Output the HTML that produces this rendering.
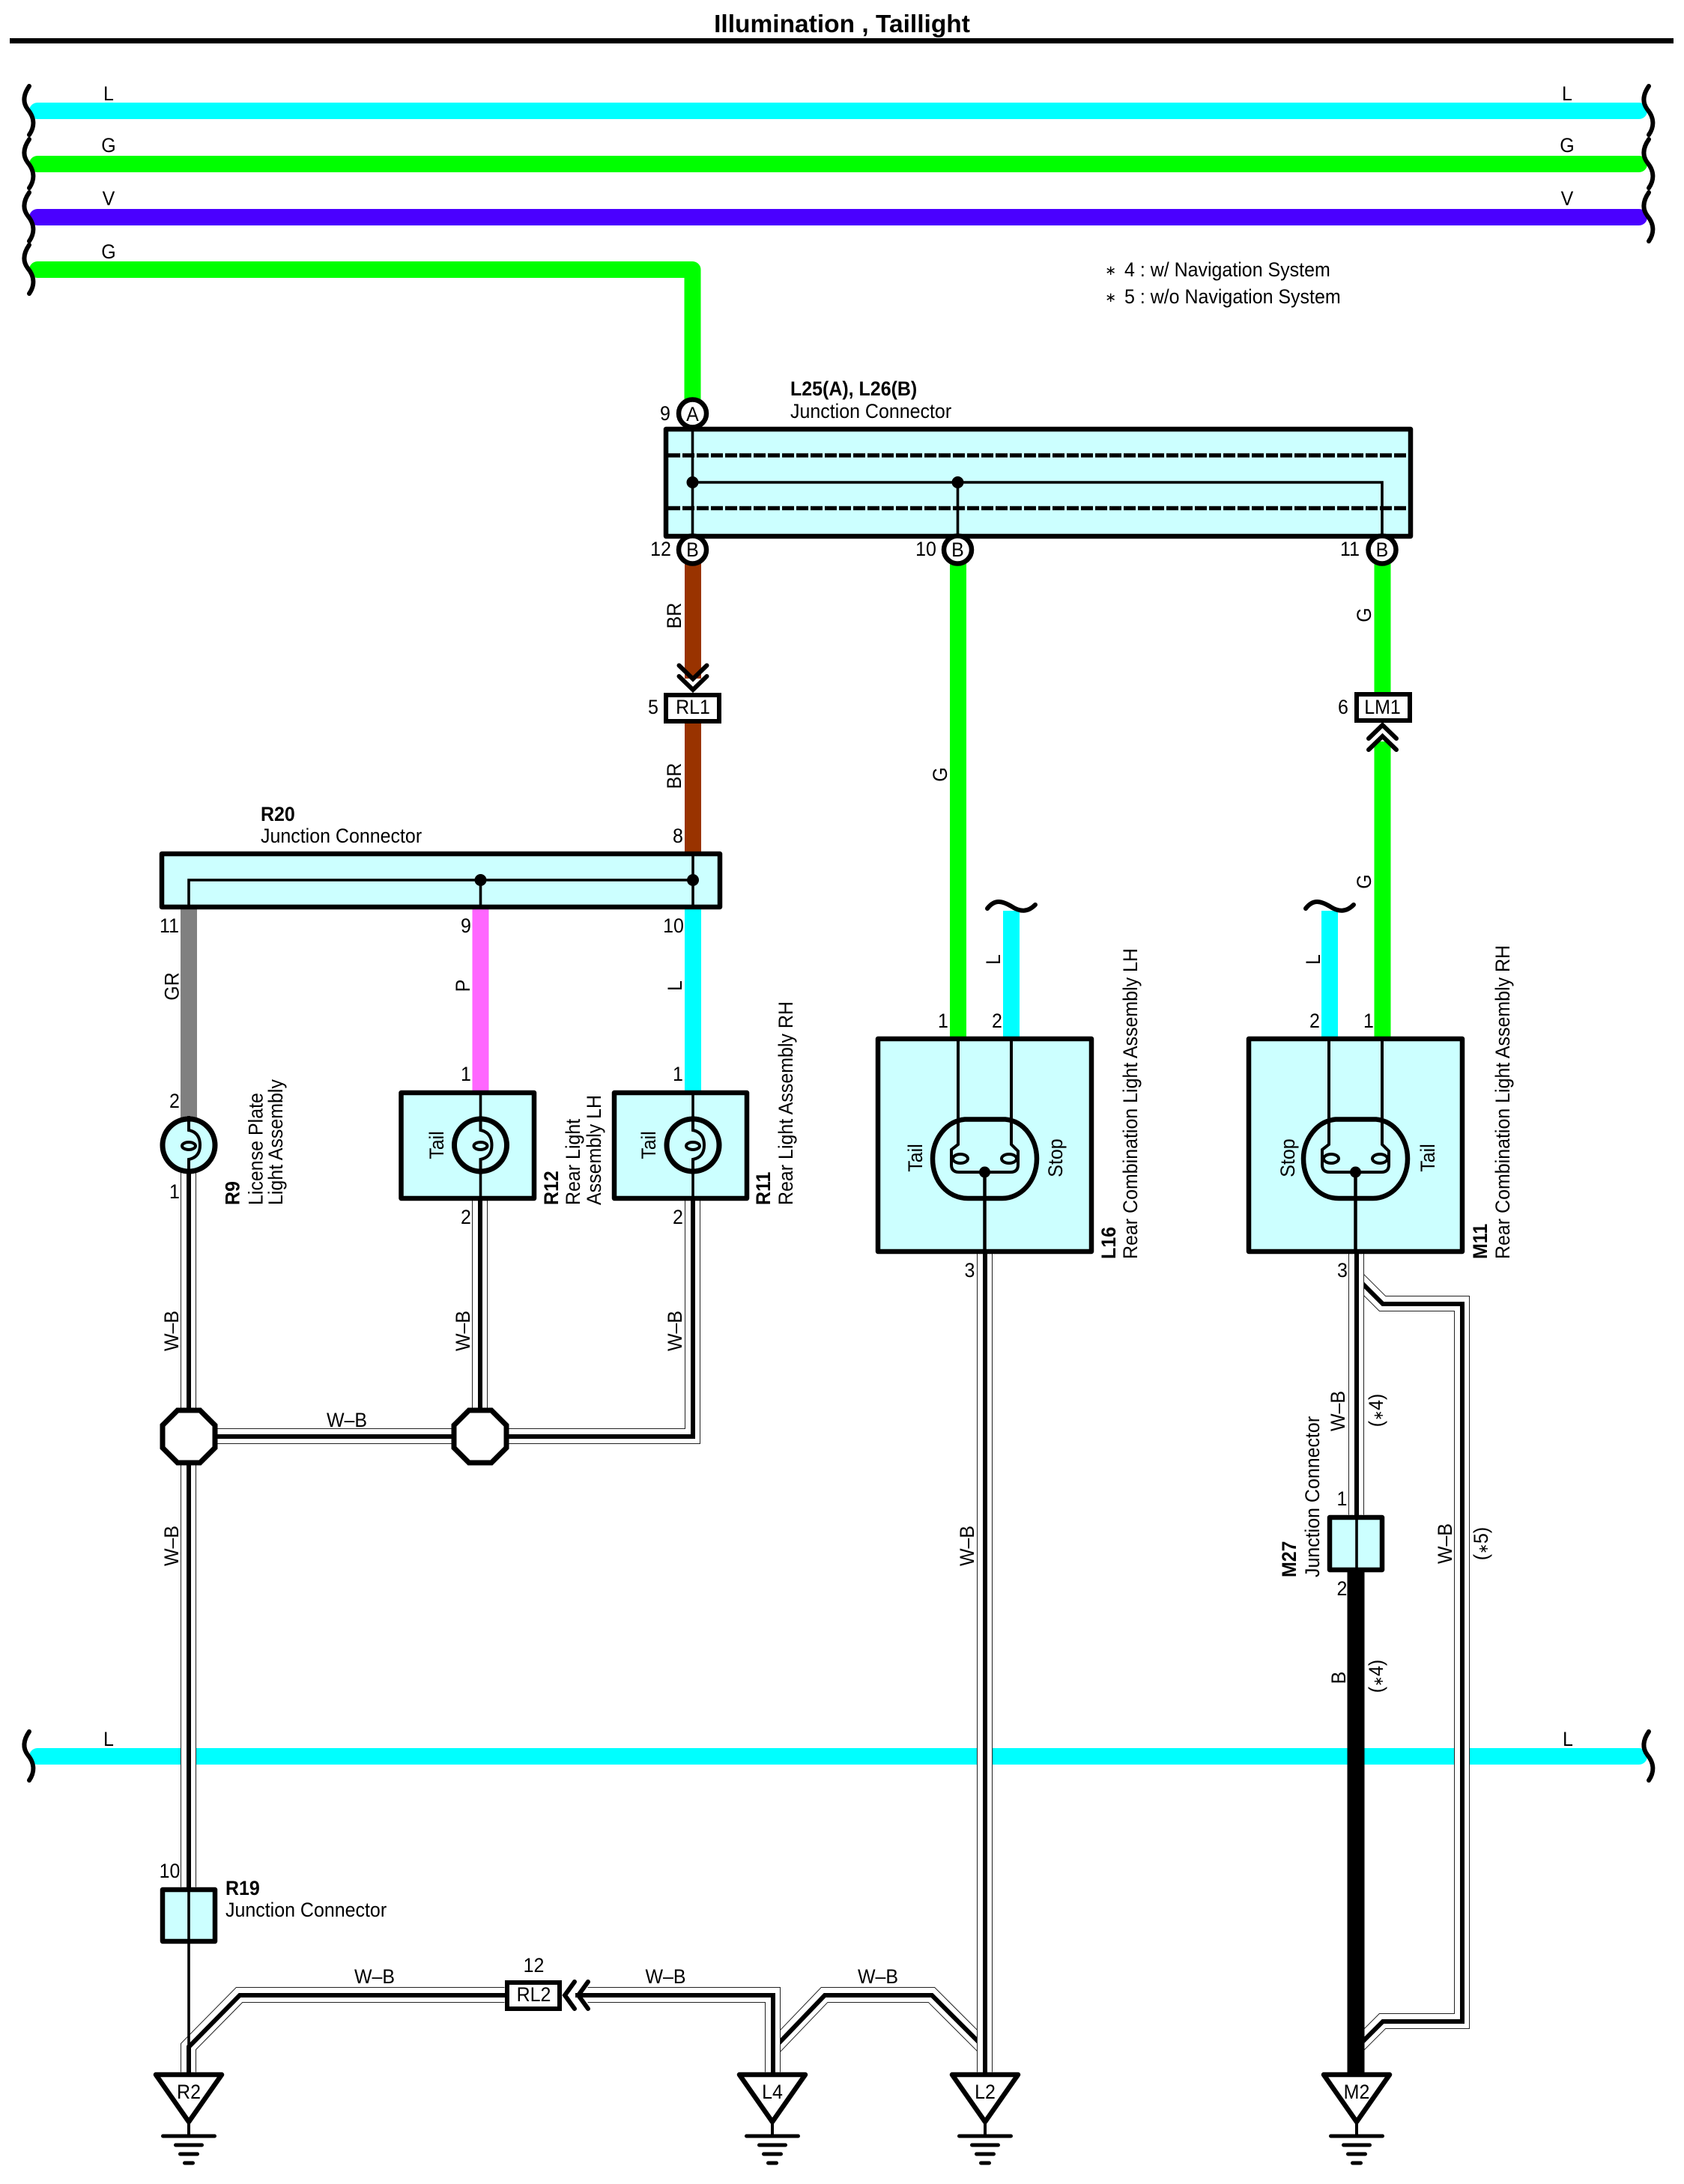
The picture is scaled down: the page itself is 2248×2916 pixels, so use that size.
<!DOCTYPE html>
<html><head><meta charset="utf-8"><title>Illumination , Taillight</title>
<style>
html,body{margin:0;padding:0;background:#fff}
svg{display:block}
text{font-family:"Liberation Sans","DejaVu Sans",sans-serif;font-size:27px;fill:#000}
.m{text-anchor:middle}
.b{font-weight:bold}
.s{font-size:18px}
.bx{fill:#ccffff;stroke:#000;stroke-width:6.5;stroke-linejoin:round}
.th{fill:none;stroke:#000;stroke-width:3.6}
.sq{fill:none;stroke:#000;stroke-width:6;stroke-linecap:round}
.w1{fill:none;stroke:#222;stroke-width:21;transform:translate(-.5px,-.5px)}
.w2{fill:none;stroke:#fff;stroke-width:19;transform:translate(-.5px,-.5px)}
.w3{fill:none;stroke:#000;stroke-width:6}
</style></head><body>
<svg xmlns="http://www.w3.org/2000/svg" width="2248" height="2916" viewBox="0 0 2248 2916">
<defs>
<path id="sq" class="sq" d="M39 115C30 128 31 138 37 146C47 158 46 170 39 180"/>
<g id="gnd">
<polygon points="-44,3 44,3 0,66" fill="#fff" stroke="#000" stroke-width="6.5" stroke-linejoin="round"/>
<path d="M0 66V85" stroke="#000" stroke-width="4" fill="none"/>
<path d="M-34.5 85H34.5M-17.5 97H17.5M-11.5 109H11.5M-5.5 121H5.5" stroke="#000" stroke-width="5" stroke-linecap="round" fill="none"/>
</g>
<g id="bulb">
<circle cx="0" cy="0" r="35" fill="#ccffff" stroke="#000" stroke-width="7"/>
<path d="M0 -39V-20Q15 -17 15 0Q15 16 0 19V39" fill="none" stroke="#000" stroke-width="4"/>
<ellipse cx="0" cy="1" rx="9" ry="5" fill="none" stroke="#000" stroke-width="4"/>
</g>
<polygon id="oct" points="-15,-35 15,-35 35,-15 35,15 15,35 -15,35 -35,15 -35,-15" fill="#fff" stroke="#000" stroke-width="7"/>
<g id="lamp">
<path d="M1288 1494.5H1342C1368 1497 1384 1522 1384 1547C1384 1578 1362 1600 1338 1600H1292C1266 1600 1245 1578 1245 1547C1245 1522 1262 1497 1288 1494.5Z" fill="none" stroke="#000" stroke-width="6.5"/>
<path d="M1279 1387V1528L1270 1535V1555Q1270 1565 1280 1565H1349Q1359 1565 1359 1555V1537L1350 1528V1387" fill="none" stroke="#000" stroke-width="4"/>
<ellipse cx="1282" cy="1547" rx="10" ry="6" fill="none" stroke="#000" stroke-width="4"/>
<ellipse cx="1347" cy="1547" rx="10" ry="6" fill="none" stroke="#000" stroke-width="4"/>
<circle cx="1314.5" cy="1565" r="7.5"/>
</g>
<path id="wave" class="sq" d="M1318 1213C1328 1200 1338 1203 1350 1210C1362 1218 1372 1218 1382 1208"/>
</defs>

<!-- title -->
<text class="m b" style="font-size:33.5px" x="1124" y="43">Illumination , Taillight</text>
<rect x="13" y="51" width="2221" height="7"/>

<!-- buses -->
<g fill="none" stroke-linecap="round" stroke-linejoin="round" stroke-width="22">
<path d="M50 148H2188" stroke="#00ffff"/>
<path d="M50 219H2188" stroke="#00ff00"/>
<path d="M50 290H2188" stroke="#4a00ff"/>
<path d="M50 360H924.5V540" stroke="#00ff00"/>
<path d="M50 2345H2188" stroke="#00ffff"/>
</g>
<use href="#sq"/><use href="#sq" y="71"/><use href="#sq" y="142"/><use href="#sq" y="212"/>
<use href="#sq" x="2162"/><use href="#sq" x="2162" y="71"/><use href="#sq" x="2162" y="142"/>
<use href="#sq" y="2197"/><use href="#sq" x="2162" y="2197"/>

<g class="bl">
<text class="m" transform="translate(145,134) scale(.925,1)">L</text>
<text class="m" transform="translate(145,203) scale(.925,1)">G</text>
<text class="m" transform="translate(145,274) scale(.925,1)">V</text>
<text class="m" transform="translate(145,345) scale(.925,1)">G</text>
<text class="m" transform="translate(2092,134) scale(.925,1)">L</text>
<text class="m" transform="translate(2092,203) scale(.925,1)">G</text>
<text class="m" transform="translate(2092,274) scale(.925,1)">V</text>
<text class="m" transform="translate(145,2331) scale(.925,1)">L</text>
<text class="m" transform="translate(2093,2331) scale(.925,1)">L</text>
</g>

<text class="s" x="1475" y="367">∗</text>
<text transform="translate(1501,369) scale(.925,1)">4 : w/ Navigation System</text>
<text class="s" x="1475" y="403">∗</text>
<text transform="translate(1501,405) scale(.925,1)">5 : w/o Navigation System</text>

<!-- coloured wires -->
<g fill="none" stroke-width="22">
<path d="M925 750V906" stroke="#993300"/>
<path d="M925 965V1140" stroke="#993300"/>
<path d="M1279 750V1390" stroke="#00ff00"/>
<path d="M1845.5 750V924" stroke="#00ff00"/>
<path d="M1845.5 990V1390" stroke="#00ff00"/>
<path d="M1350 1216V1390" stroke="#00ffff"/>
<path d="M1775 1216V1390" stroke="#00ffff"/>
<path d="M252 1213V1495" stroke="#808080"/>
<path d="M641.5 1213V1458" stroke="#ff66ff"/>
<path d="M925 1213V1458" stroke="#00ffff"/>
</g>
<use href="#wave"/><use href="#wave" x="425"/>

<!-- L25/L26 junction -->
<rect class="bx" x="889" y="573" width="994" height="143"/>
<path d="M892 608H1881M892 678.5H1881" fill="none" stroke="#000" stroke-width="5.5" stroke-dasharray="16 3"/>
<path class="th" d="M924.5 570V715M924.5 644H1845V715M1278.5 644V715"/>
<circle cx="924.5" cy="644" r="8"/><circle cx="1278.5" cy="644" r="8"/>
<g fill="#fff" stroke="#000" stroke-width="6.5">
<circle cx="924.5" cy="552" r="18.5"/><circle cx="924.5" cy="734" r="18.5"/><circle cx="1278.5" cy="734" r="18.5"/><circle cx="1845" cy="734" r="18.5"/>
</g>
<text class="m" transform="translate(924.5,562) scale(.925,1)">A</text>
<text class="m" transform="translate(924.5,743) scale(.925,1)">B</text>
<text class="m" transform="translate(1278.5,743) scale(.925,1)">B</text>
<text class="m" transform="translate(1845,743) scale(.925,1)">B</text>
<text class="m" transform="translate(888,561) scale(.925,1)">9</text>
<text class="m" transform="translate(882,742) scale(.925,1)">12</text>
<text class="m" transform="translate(1236,742) scale(.925,1)">10</text>
<text class="m" transform="translate(1802,742) scale(.925,1)">11</text>
<text class="b" transform="translate(1055,528) scale(.925,1)">L25(A), L26(B)</text>
<text transform="translate(1055,558) scale(.925,1)">Junction Connector</text>

<!-- RL1 / LM1 -->
<rect x="889" y="928" width="71" height="35" fill="#fff" stroke="#000" stroke-width="6"/>
<path d="M906.5 888.5L925 906.5L943.5 888.5M906.5 903L925 921L943.5 903" fill="none" stroke="#000" stroke-width="6" stroke-linecap="round"/>
<text class="m" transform="translate(925,953) scale(.925,1)">RL1</text>
<text class="m" transform="translate(872,953) scale(.925,1)">5</text>
<rect x="1811" y="927" width="71" height="35" fill="#fff" stroke="#000" stroke-width="6"/>
<path d="M1827 986L1845.5 968L1864 986M1827 1001L1845.5 983L1864 1001" fill="none" stroke="#000" stroke-width="6" stroke-linecap="round"/>
<text class="m" transform="translate(1845.5,953) scale(.925,1)">LM1</text>
<text class="m" transform="translate(1793,953) scale(.925,1)">6</text>

<!-- rotated wire labels upper -->
<text class="m" transform="translate(909,822) rotate(-90) scale(.925,1)">BR</text>
<text class="m" transform="translate(909,1036) rotate(-90) scale(.925,1)">BR</text>
<text class="m" transform="translate(1264,1034) rotate(-90) scale(.925,1)">G</text>
<text class="m" transform="translate(1830,821) rotate(-90) scale(.925,1)">G</text>
<text class="m" transform="translate(1830,1177) rotate(-90) scale(.925,1)">G</text>

<!-- R20 -->
<rect class="bx" x="216" y="1140" width="745" height="71"/>
<path class="th" d="M252 1213V1175H925M641.5 1175V1213M925 1137V1213"/>
<circle cx="641.5" cy="1175" r="8"/><circle cx="925" cy="1175" r="8"/>
<text class="b" transform="translate(348,1096) scale(.925,1)">R20</text>
<text transform="translate(348,1125) scale(.925,1)">Junction Connector</text>
<text class="m" transform="translate(905,1125) scale(.925,1)">8</text>
<text class="m" transform="translate(226,1245) scale(.925,1)">11</text>
<text class="m" transform="translate(622,1245) scale(.925,1)">9</text>
<text class="m" transform="translate(899,1245) scale(.925,1)">10</text>
<text class="m" transform="translate(238.5,1317) rotate(-90) scale(.925,1)">GR</text>
<text class="m" transform="translate(627,1316) rotate(-90) scale(.925,1)">P</text>
<text class="m" transform="translate(910,1316) rotate(-90) scale(.925,1)">L</text>
<text class="m" transform="translate(233,1479) scale(.925,1)">2</text>
<text class="m" transform="translate(622,1443) scale(.925,1)">1</text>
<text class="m" transform="translate(905,1443) scale(.925,1)">1</text>
<text class="m" transform="translate(233,1600) scale(.925,1)">1</text>
<text class="m" transform="translate(622,1634) scale(.925,1)">2</text>
<text class="m" transform="translate(905,1634) scale(.925,1)">2</text>

<!-- W-B network: branches first -->
<g stroke-linejoin="miter">
<path class="w1" d="M641 1918H925V1600"/><path class="w2" d="M641 1918H925V1600"/><path class="w3" d="M641 1918H925V1600"/>
<path class="w1" d="M252 1918H641"/><path class="w2" d="M252 1918H641"/><path class="w3" d="M252 1918H641"/>
<path class="w1" d="M641 1600V1918"/><path class="w2" d="M641 1600V1918"/><path class="w3" d="M641 1600V1918"/>
<path class="w1" d="M252 1565V2520"/><path class="w2" d="M252 1565V2520"/><path class="w3" d="M252 1565V2520"/>

<path class="w1" d="M252 2767V2733L320 2664H674"/><path class="w2" d="M252 2767V2733L320 2664H674"/><path class="w3" d="M252 2733L320 2664H674"/>
<path class="w1" d="M1032 2736L1101 2664H1244L1315 2735"/><path class="w2" d="M1032 2736L1101 2664H1244L1315 2735"/><path class="w3" d="M1032 2736L1101 2664H1244L1315 2735"/>
<path class="w1" d="M785 2664H1032V2767"/><path class="w2" d="M785 2664H1032V2767"/><path class="w3" d="M768 2664H1032V2767"/>
<path class="w1" d="M1315 1671V2767"/><path class="w2" d="M1315 1671V2767"/><path class="w3" d="M1315 1671V2767"/>

<path class="w1" d="M1810 1705L1846 1741H1952V2699H1846L1810 2735"/><path class="w2" d="M1810 1705L1846 1741H1952V2699H1846L1810 2735"/><path class="w3" d="M1810 1705L1846 1741H1952V2699H1846L1810 2735"/>
<path class="w1" d="M1811 1671V2023"/><path class="w2" d="M1811 1671V2023"/><path class="w3" d="M1811 1671V2023"/>
</g>
<path d="M1810 2098V2770" fill="none" stroke="#000" stroke-width="23"/>
<path class="th" d="M252 2595V2735"/>
<path d="M252 2731V2767" fill="none" stroke="#000" stroke-width="6"/>

<use href="#oct" x="252" y="1918"/><use href="#oct" x="641" y="1918"/>

<!-- R9 R12 R11 -->
<use href="#bulb" x="252" y="1529"/>
<rect class="bx" x="535.5" y="1459" width="177.5" height="141"/>
<path class="th" d="M641.5 1456V1602"/>
<use href="#bulb" x="641.5" y="1529"/>
<rect class="bx" x="820" y="1459" width="177" height="141"/>
<path class="th" d="M925 1456V1602"/>
<use href="#bulb" x="925" y="1529"/>
<text class="m" transform="translate(592,1529) rotate(-90) scale(.925,1)">Tail</text>
<text class="m" transform="translate(875,1529) rotate(-90) scale(.925,1)">Tail</text>
<text class="b" transform="translate(319.5,1609) rotate(-90) scale(.925,1)">R9</text>
<text transform="translate(350.5,1609) rotate(-90) scale(.925,1)">License Plate</text>
<text transform="translate(377,1609) rotate(-90) scale(.925,1)">Light Assembly</text>
<text class="b" transform="translate(745,1609) rotate(-90) scale(.925,1)">R12</text>
<text transform="translate(774,1609) rotate(-90) scale(.925,1)">Rear Light</text>
<text transform="translate(802,1609) rotate(-90) scale(.925,1)">Assembly LH</text>
<text class="b" transform="translate(1028,1609) rotate(-90) scale(.925,1)">R11</text>
<text transform="translate(1058,1609) rotate(-90) scale(.925,1)">Rear Light Assembly RH</text>

<text class="m" transform="translate(238,1777) rotate(-90) scale(.925,1)">W–B</text>
<text class="m" transform="translate(627,1777) rotate(-90) scale(.925,1)">W–B</text>
<text class="m" transform="translate(910,1777) rotate(-90) scale(.925,1)">W–B</text>
<text class="m" transform="translate(463,1905) scale(.925,1)">W–B</text>
<text class="m" transform="translate(238,2064) rotate(-90) scale(.925,1)">W–B</text>
<text class="m" transform="translate(1300,2064) rotate(-90) scale(.925,1)">W–B</text>

<!-- L16 -->
<rect class="bx" x="1172" y="1387" width="285" height="284"/>
<use href="#lamp"/>
<path d="M1314.5 1565V1671" fill="none" stroke="#000" stroke-width="4.5"/>
<text class="m" transform="translate(1335,1281) rotate(-90) scale(.925,1)">L</text>
<text class="m" transform="translate(1259,1372) scale(.925,1)">1</text>
<text class="m" transform="translate(1331,1372) scale(.925,1)">2</text>
<text class="m" transform="translate(1231,1546) rotate(-90) scale(.925,1)">Tail</text>
<text class="m" transform="translate(1418,1546) rotate(-90) scale(.925,1)">Stop</text>
<text class="b" transform="translate(1489,1681) rotate(-90) scale(.925,1)">L16</text>
<text transform="translate(1518,1681) rotate(-90) scale(.925,1)">Rear Combination Light Assembly LH</text>
<text class="m" transform="translate(1294.5,1705) scale(.925,1)">3</text>

<!-- M11 -->
<rect class="bx" x="1667" y="1387" width="285" height="284"/>
<use href="#lamp" x="495"/>
<path d="M1809.5 1565V1671" fill="none" stroke="#000" stroke-width="4.5"/>
<text class="m" transform="translate(1762,1281) rotate(-90) scale(.925,1)">L</text>
<text class="m" transform="translate(1755,1372) scale(.925,1)">2</text>
<text class="m" transform="translate(1827,1372) scale(.925,1)">1</text>
<text class="m" transform="translate(1728,1546) rotate(-90) scale(.925,1)">Stop</text>
<text class="m" transform="translate(1915,1546) rotate(-90) scale(.925,1)">Tail</text>
<text class="b" transform="translate(1985,1681) rotate(-90) scale(.925,1)">M11</text>
<text transform="translate(2015,1681) rotate(-90) scale(.925,1)">Rear Combination Light Assembly RH</text>
<text class="m" transform="translate(1792,1705) scale(.925,1)">3</text>
<text class="m" transform="translate(1795,1884) rotate(-90) scale(.925,1)">W–B</text>
<text class="m" transform="translate(1846,1883) rotate(-90) scale(.925,1)">(<tspan class="s">∗</tspan>4)</text>

<!-- M27 -->
<rect class="bx" x="1775" y="2026" width="70" height="70"/>
<path class="th" d="M1811 2023V2098"/>
<text class="b" transform="translate(1730,2106) rotate(-90) scale(.925,1)">M27</text>
<text transform="translate(1761,2106) rotate(-90) scale(.925,1)">Junction Connector</text>
<text class="m" transform="translate(1791.5,2010) scale(.925,1)">1</text>
<text class="m" transform="translate(1791.5,2130) scale(.925,1)">2</text>
<text class="m" transform="translate(1938,2061) rotate(-90) scale(.925,1)">W–B</text>
<text class="m" transform="translate(1986,2061) rotate(-90) scale(.925,1)">(<tspan class="s">∗</tspan>5)</text>
<text class="m" transform="translate(1796,2240) rotate(-90) scale(.925,1)">B</text>
<text class="m" transform="translate(1846,2238) rotate(-90) scale(.925,1)">(<tspan class="s">∗</tspan>4)</text>

<!-- R19 -->
<rect class="bx" x="217" y="2523" width="70" height="69"/>
<path class="th" d="M252 2520V2595"/>
<text class="b" transform="translate(301,2530) scale(.925,1)">R19</text>
<text transform="translate(301,2559) scale(.925,1)">Junction Connector</text>
<text class="m" transform="translate(226.5,2507) scale(.925,1)">10</text>

<!-- RL2 -->
<rect x="677" y="2647" width="70" height="35" fill="#fff" stroke="#000" stroke-width="6"/>
<path d="M767 2646L754 2664L767 2682M785 2646L772 2664L785 2682" fill="none" stroke="#000" stroke-width="6" stroke-linecap="round"/>
<text class="m" transform="translate(712.5,2672) scale(.925,1)">RL2</text>
<text class="m" transform="translate(712.5,2633) scale(.925,1)">12</text>
<text class="m" transform="translate(500,2648) scale(.925,1)">W–B</text>
<text class="m" transform="translate(888.5,2648) scale(.925,1)">W–B</text>
<text class="m" transform="translate(1172,2648) scale(.925,1)">W–B</text>

<!-- grounds -->
<use href="#gnd" x="252" y="2767"/>
<use href="#gnd" x="1031" y="2767"/>
<use href="#gnd" x="1315" y="2767"/>
<use href="#gnd" x="1811" y="2767"/>
<text class="m" transform="translate(252,2802) scale(.925,1)">R2</text>
<text class="m" transform="translate(1031,2802) scale(.925,1)">L4</text>
<text class="m" transform="translate(1315,2802) scale(.925,1)">L2</text>
<text class="m" transform="translate(1811,2802) scale(.925,1)">M2</text>
</svg>
</body></html>
